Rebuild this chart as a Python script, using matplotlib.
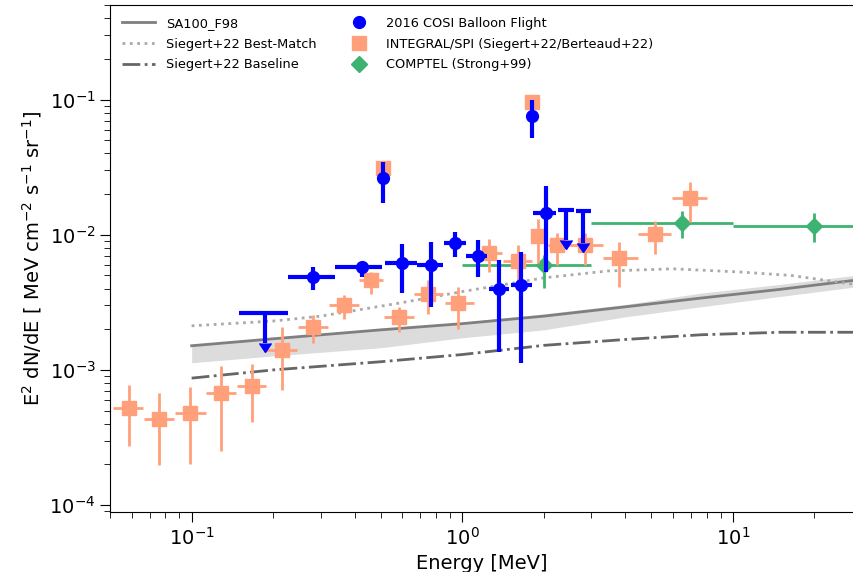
import matplotlib
matplotlib.use("Agg")
import matplotlib.pyplot as plt
from matplotlib.lines import Line2D
import numpy as np

# ---- model curves ----
model_E = [0.1, 0.2, 0.5, 1.0, 2.0, 4.0, 7.6, 15.0, 28.0]
sa100_f98 = [1.51e-3, 1.70e-3, 1.98e-3, 2.20e-3, 2.50e-3, 2.93e-3, 3.40e-3, 3.95e-3, 4.60e-3]
band_hi = [1.53e-3, 1.72e-3, 2.00e-3, 2.25e-3, 2.60e-3, 3.05e-3, 3.70e-3, 4.30e-3, 5.00e-3]
band_lo = [1.13e-3, 1.27e-3, 1.46e-3, 1.73e-3, 1.98e-3, 2.47e-3, 2.93e-3, 3.50e-3, 4.10e-3]
baseline = [8.7e-4, 1.00e-3, 1.15e-3, 1.30e-3, 1.52e-3, 1.68e-3, 1.82e-3, 1.90e-3, 1.90e-3]

best_E = [0.1, 0.2, 0.3, 0.6, 1.0, 2.0, 3.45, 6.0, 10.7, 16.4, 28.0]
best_match = [2.12e-3, 2.30e-3, 2.50e-3, 3.15e-3, 3.8e-3, 4.8e-3, 5.4e-3, 5.6e-3, 5.3e-3, 5.0e-3, 4.3e-3]

# ---- COSI 2016 balloon flight ----
cosi_E = [0.281, 0.426, 0.60, 0.768, 0.94, 1.14, 1.37, 1.65, 2.03, 0.511, 1.809]
cosi_Elo = [0.227, 0.339, 0.518, 0.681, 0.855, 1.03, 1.25, 1.51, 1.83, 0.511, 1.809]
cosi_Ehi = [0.339, 0.506, 0.681, 0.848, 1.03, 1.23, 1.49, 1.81, 2.22, 0.511, 1.809]
cosi_F = [4.89e-3, 5.8e-3, 6.2e-3, 6.0e-3, 8.7e-3, 7.0e-3, 4.0e-3, 4.27e-3, 1.46e-2, 2.64e-2, 7.6e-2]
cosi_Flo = [3.9e-3, 4.9e-3, 3.7e-3, 2.9e-3, 6.9e-3, 4.9e-3, 1.36e-3, 1.13e-3, 5.3e-3, 1.72e-2, 5.23e-2]
cosi_Fhi = [5.8e-3, 6.3e-3, 8.6e-3, 8.9e-3, 1.05e-2, 9.2e-3, 6.5e-3, 7.4e-3, 2.3e-2, 3.47e-2, 1.0e-1]

cosi_ul_E = [0.186, 2.41, 2.80]
cosi_ul_Elo = [0.150, 2.25, 2.62]
cosi_ul_Ehi = [0.227, 2.58, 3.00]
cosi_ul_F = [2.64e-3, 1.53e-2, 1.49e-2]
cosi_ul_tip = [1.58e-3, 9.2e-3, 8.7e-3]

# ---- INTEGRAL/SPI ----
spi_E = [0.0585, 0.0755, 0.0984, 0.128, 0.167, 0.215, 0.281, 0.366, 0.46, 0.585,
         0.748, 0.967, 1.25, 1.60, 1.90, 2.23, 2.83, 3.78, 5.14, 6.93, 0.511, 1.809]
spi_Elo = [0.0514, 0.0664, 0.0865, 0.1127, 0.147, 0.189, 0.247, 0.322, 0.415, 0.513,
           0.664, 0.86, 1.10, 1.41, 1.81, 2.08, 2.47, 3.32, 4.46, 5.97, 0.511, 1.809]
spi_Ehi = [0.0659, 0.0858, 0.1127, 0.1455, 0.189, 0.245, 0.318, 0.415, 0.51, 0.664,
           0.85, 1.10, 1.40, 1.81, 1.99, 2.45, 3.30, 4.46, 5.90, 8.00, 0.511, 1.809]
spi_F = [5.24e-4, 4.34e-4, 4.8e-4, 6.76e-4, 7.6e-4, 1.41e-3, 2.08e-3, 3.03e-3, 4.64e-3, 2.47e-3,
         3.66e-3, 3.13e-3, 7.36e-3, 6.4e-3, 9.83e-3, 8.43e-3, 8.43e-3, 6.76e-3, 1.02e-2, 1.88e-2,
         3.14e-2, 9.66e-2]
spi_Flo = [2.73e-4, 1.98e-4, 2.01e-4, 2.51e-4, 4.12e-4, 7.1e-4, 1.58e-3, 2.39e-3, 3.66e-3, 1.91e-3,
           2.6e-3, 2.01e-3, 5.3e-3, 4.64e-3, 6.2e-3, 6.0e-3, 6.0e-3, 4.12e-3, 7.23e-3, 1.25e-2,
           3.14e-2, 9.66e-2]
spi_Fhi = [7.75e-4, 6.76e-4, 7.48e-4, 1.07e-3, 1.11e-3, 2.08e-3, 2.55e-3, 3.6e-3, 5.3e-3, 2.93e-3,
           4.64e-3, 4.12e-3, 9.3e-3, 8.43e-3, 1.31e-2, 1.03e-2, 1.03e-2, 8.87e-3, 1.27e-2, 2.47e-2,
           3.14e-2, 9.66e-2]

# ---- COMPTEL ----
comptel_E = [2.0, 6.5, 20.0]
comptel_Elo = [1.0, 3.0, 10.0]
comptel_Ehi = [3.0, 10.0, 30.0]
comptel_F = [6.0e-3, 1.23e-2, 1.17e-2]
comptel_Flo = [4.05e-3, 9.5e-3, 8.87e-3]
comptel_Fhi = [7.1e-3, 1.51e-2, 1.46e-2]

labels = ["SA100_F98", "Siegert+22 Best-Match", "Siegert+22 Baseline",
          "2016 COSI Balloon Flight", "INTEGRAL/SPI (Siegert+22/Berteaud+22)",
          "COMPTEL (Strong+99)"]

C_COSI = "blue"
C_SPI = "#FFA07A"
C_COMP = "#3CB371"


def errs(v, lo, hi):
    v = np.asarray(v); lo = np.asarray(lo); hi = np.asarray(hi)
    return np.vstack([v - lo, hi - v])


fig = plt.figure(figsize=(8.54, 5.72), dpi=100)
ax = fig.add_axes([0.129, 0.105, 0.871, 0.886])

ax.fill_between(model_E, band_lo, band_hi, color="#dcdcdc", lw=0, zorder=1)
ax.plot(model_E, sa100_f98, color="#7f7f7f", lw=2, zorder=2)
ax.plot(best_E, best_match, color="#aaaaaa", lw=2, ls=":", zorder=2)
ax.plot(model_E, baseline, color="#666666", lw=2, ls="-.", zorder=2)

ax.errorbar(comptel_E, comptel_F, xerr=errs(comptel_E, comptel_Elo, comptel_Ehi),
            yerr=errs(comptel_F, comptel_Flo, comptel_Fhi), fmt="D", ms=8.5,
            color=C_COMP, ecolor=C_COMP, elinewidth=2, capsize=0, zorder=3)

ax.errorbar(spi_E, spi_F, xerr=errs(spi_E, spi_Elo, spi_Ehi),
            yerr=errs(spi_F, spi_Flo, spi_Fhi), fmt="s", ms=10,
            color=C_SPI, ecolor=C_SPI, elinewidth=2, capsize=0, zorder=4)

ax.errorbar(cosi_E, cosi_F, xerr=errs(cosi_E, cosi_Elo, cosi_Ehi),
            yerr=errs(cosi_F, cosi_Flo, cosi_Fhi), fmt="o", ms=8.5,
            color=C_COSI, ecolor=C_COSI, elinewidth=3, capsize=0, zorder=5)

ax.errorbar(cosi_ul_E, cosi_ul_F, xerr=errs(cosi_ul_E, cosi_ul_Elo, cosi_ul_Ehi),
            fmt="none", ecolor=C_COSI, color=C_COSI, elinewidth=3, capsize=0, zorder=5)
ax.errorbar(cosi_ul_E, cosi_ul_F, yerr=np.asarray(cosi_ul_F) - np.asarray(cosi_ul_tip),
            uplims=True, fmt="none", ecolor=C_COSI, color=C_COSI, elinewidth=3,
            capsize=4.5, capthick=1, zorder=5)

ax.set_xscale("log")
ax.set_yscale("log")
ax.set_xlim(0.05, 28)
ax.set_ylim(8.9e-5, 0.5)

ax.set_xlabel("Energy [MeV]", fontsize=14)
ax.set_ylabel(r"E$^2$ dN/dE [ MeV cm$^{-2}$ s$^{-1}$ sr$^{-1}$]", fontsize=14)
ax.tick_params(axis="both", which="major", labelsize=14, length=7)
ax.tick_params(axis="both", which="minor", length=4)

handles = [
    Line2D([], [], color="#7f7f7f", lw=2),
    Line2D([], [], color="#aaaaaa", lw=2, ls=":"),
    Line2D([], [], color="#666666", lw=2, ls="-."),
    Line2D([], [], color=C_COSI, marker="o", ls="none", ms=8.5),
    Line2D([], [], color=C_SPI, marker="s", ls="none", ms=10),
    Line2D([], [], color=C_COMP, marker="D", ls="none", ms=8.5),
]
ax.legend(handles, labels, ncol=2, frameon=False, fontsize=9.3, loc="upper left",
          handlelength=2.6, columnspacing=2.0, labelspacing=0.6)

fig.savefig("out.png", dpi=100)
